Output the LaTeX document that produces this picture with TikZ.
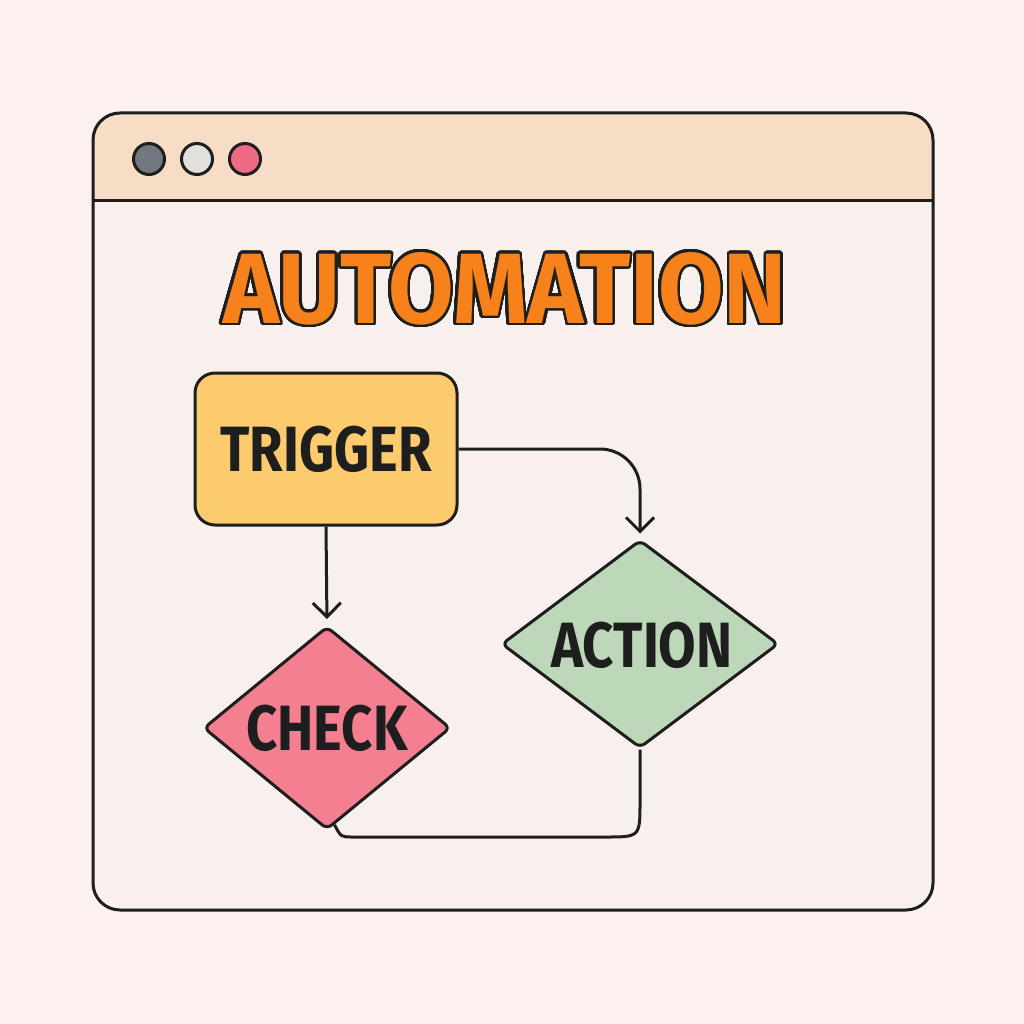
\documentclass[tikz,border=0pt]{standalone}
\usepackage{fontspec}
\setmainfont{Fira Sans}
\newfontfamily\labfont[FakeStretch=0.85]{Fira Sans}
\newfontfamily\titlefont[FakeStretch=0.95]{Fira Sans}
\usepackage{contour}
\usetikzlibrary{arrows.meta,shapes.geometric,calc}
\definecolor{bgc}{HTML}{FCF1EE}
\definecolor{bodyc}{HTML}{F8F0EC}
\definecolor{headc}{HTML}{F7DCC6}
\definecolor{ink}{HTML}{1E1E1E}
\definecolor{dotgray}{HTML}{737880}
\definecolor{dotlight}{HTML}{E2E0DC}
\definecolor{dotpink}{HTML}{EE6A85}
\definecolor{orangec}{HTML}{F7821B}
\definecolor{trigc}{HTML}{FCCB6E}
\definecolor{checkc}{HTML}{F47F91}
\definecolor{actc}{HTML}{BDD8B9}
\contourlength{2.6pt}
\contournumber{40}
\tikzset{
  dotnode/.style={circle, draw=ink, line width=3pt, minimum size=31pt, inner sep=0pt},
  boxnode/.style={rectangle, draw=ink, line width=3pt, rounded corners=20pt, minimum width=262pt, minimum height=152pt, inner sep=0pt},
  dianode/.style={diamond, draw=ink, line width=3pt, rounded corners=6pt, inner sep=0pt},
  labnode/.style={text=ink, font=\labfont\bfseries\fontsize{64}{64}\selectfont, inner sep=0pt},
  conn/.style={draw=ink, line width=3pt},
  barb/.style={-{Straight Barb[length=14pt,width=28pt,line width=3pt]}}
}
\begin{document}
\begin{tikzpicture}[x=1pt,y=-1pt]
\useasboundingbox (0,0) rectangle (1024,1024);
\fill[bgc] (0,0) rectangle (1024,1024);
% window
\fill[bodyc, rounded corners=27pt] (93,113) rectangle (933,910);
\begin{scope}
\clip[rounded corners=27pt] (93,113) rectangle (933,910);
\fill[headc] (93,113) rectangle (933,201);
\end{scope}
\draw[ink, line width=3pt] (93,201) -- (933,201);
\draw[ink, line width=3pt, rounded corners=27pt] (93,113) rectangle (933,910);
% dots
\node[dotnode, fill=dotgray] (d1) at (149,159) {};
\node[dotnode, fill=dotlight] (d2) at (197,159) {};
\node[dotnode, fill=dotpink] (d3) at (245,159) {};
% title
\node[inner sep=0pt] (title) at (505,290) {\titlefont\bfseries\fontsize{100}{100}\selectfont\contour{ink}{\textcolor{orangec}{AUTOMATION}}};
% nodes
\node[boxnode, fill=trigc] (trigger) at (326,449) {};
\node[labnode] (triggert) at (trigger) {TRIGGER};
\node[dianode, fill=checkc, minimum width=247pt, minimum height=203pt] (check) at (327,728) {};
\node[labnode] (checkt) at (check) {CHECK};
\node[dianode, fill=actc, minimum width=277pt, minimum height=208pt] (action) at (640,644) {};
\node[labnode] (actiont) at (642,645) {ACTION};
\coordinate (loopend) at ($(check.south)!0.06!(check.east)$);
% connectors
\draw[conn, barb, shorten >=6pt] (trigger.south) -- (check.north);
\draw[conn, barb, rounded corners=40pt, shorten >=5pt] (trigger.east) -| (action.north);
\draw[conn] (action.south) -- (640,802) .. controls (640,837) .. (605,837) -- (352,837) .. controls (341,837) .. (loopend);
\end{tikzpicture}
\end{document}
